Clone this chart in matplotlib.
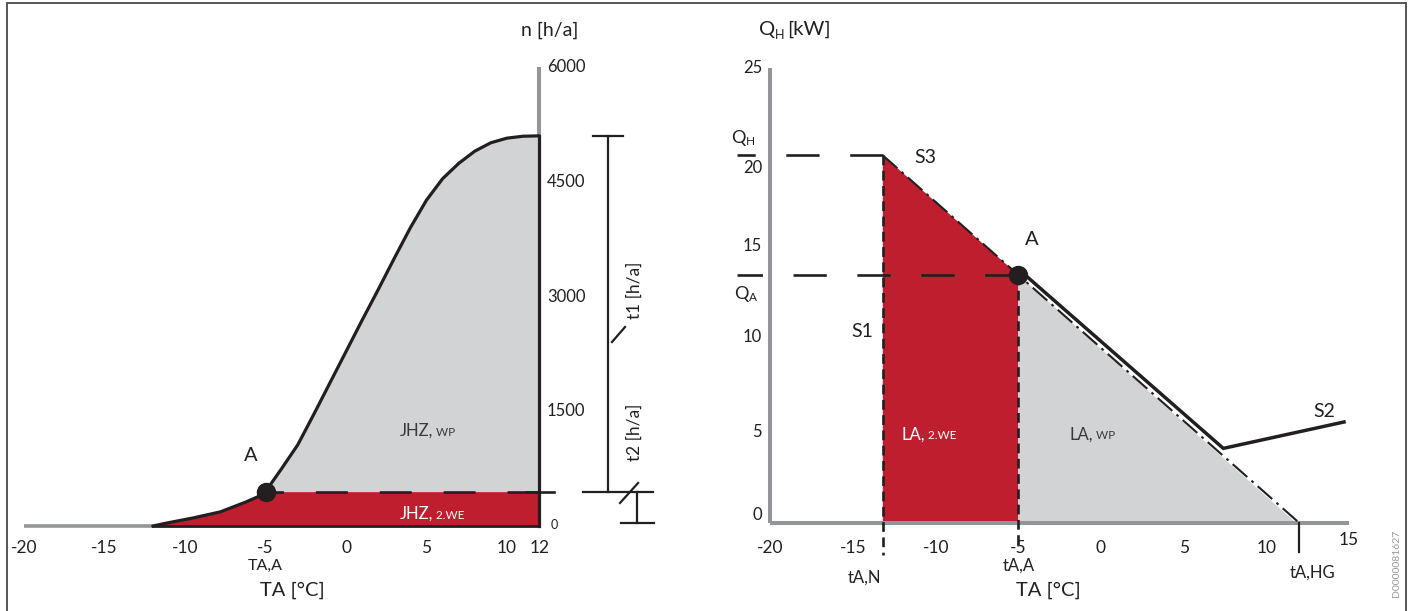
import matplotlib.pyplot as plt
from matplotlib.lines import Line2D

plt.rcParams['font.family'] = ['Lato', 'DejaVu Sans']
plt.rcParams['lines.scale_dashes'] = False

# ---- data: left panel (annual heating hours curve) ----
ta_curve = [-12.0, -11.1, -9.5, -7.8, -6.2, -5.5, -5.0, -4.0, -3.0, -2.0, -1.0, 0.0,
            1.0, 2.0, 3.0, 4.0, 5.0, 6.0, 7.0, 8.0, 9.0, 10.0, 11.0, 12.0]
n_curve = [0, 40, 105, 185, 315, 380, 450, 750, 1060, 1460, 1870, 2280,
           2690, 3090, 3500, 3900, 4260, 4540, 4740, 4900, 5010, 5070, 5095, 5100]
ta_a_left = -5.0
n_a = 450
left_xticks = [-20, -15, -10, -5, 0, 5, 10, 12]
left_yticks = [1500, 3000, 4500, 6000]

# ---- data: right panel (heating load line) ----
ta_n = -13.2      # tA,N
q_h = 20.2        # QH
ta_a = -5.0       # tA,A
q_a = 13.6        # QA
ta_hg = 12.0      # tA,HG
s_ta = [-5.0, 7.4, 14.7]     # heat pump line S / S2
s_q = [13.95, 4.1, 5.55]
right_xticks = [-20, -15, -10, -5, 0, 5, 10, 15]
right_yticks = [0, 5, 10, 15, 20, 25]

RED = '#be1e2d'
GREY_FILL = '#d1d3d4'
GREY_AX = '#939598'
BLACK = '#231f20'
W, H = 1411, 611

fig = plt.figure(figsize=(W / 100, H / 100), dpi=100)


def place(ax, x0, kx, xlim, y0, ky, ylim):
    # put the axes so that data maps to the wanted pixel scale
    left, right = x0 + kx * xlim[0], x0 + kx * xlim[1]
    top, bottom = y0 - ky * ylim[1], y0 - ky * ylim[0]
    ax.set_position([left / W, 1 - bottom / H, (right - left) / W, (bottom - top) / H])
    ax.set_xlim(xlim)
    ax.set_ylim(ylim)
    ax.axis('off')


def split_label(ax, x, y, big, small, color, fs=12, fs_small=8.5):
    ax.text(x, y, big, ha='right', va='baseline', fontsize=fs, color=color)
    ax.text(x, y, ' ' + small, ha='left', va='baseline', fontsize=fs_small, color=color)


# ================= left panel =================
axL = fig.add_axes([0, 0, 1, 1])
place(axL, 346, 16.1, (-22, 21), 526, 0.0765, (-1000, 6800))

i_a = ta_curve.index(ta_a_left)
# red part (below A level)
red_x = ta_curve[:i_a + 1] + [ta_curve[-1]]
red_y = n_curve[:i_a + 1] + [n_a]
axL.fill_between(red_x, 0, red_y, color=RED, lw=0, zorder=1)
# grey part (above A level)
axL.fill_between(ta_curve[i_a:], n_a, n_curve[i_a:], color=GREY_FILL, lw=0, zorder=1)

axL.plot([-20, ta_curve[0]], [0, 0], color=GREY_AX, lw=2.6, zorder=2, solid_capstyle='butt')
axL.plot([ta_curve[0], ta_curve[-1]], [0, 0], color=BLACK, lw=2, zorder=3)
axL.plot([12, 12], [n_curve[-1], 6000], color=GREY_AX, lw=2.9, zorder=2, solid_capstyle='butt')
axL.plot([12, 12], [0, n_curve[-1]], color=BLACK, lw=2.3, zorder=3)
axL.plot(ta_curve, n_curve, color=BLACK, lw=2.3, zorder=4, solid_capstyle='round',
         solid_joinstyle='round')
axL.plot([12, ta_a_left], [n_a, n_a], color=BLACK, lw=1.9, dashes=(23, 23), zorder=3)
axL.plot([11.2, 12.9], [n_a, n_a], color=BLACK, lw=1.9, zorder=3)
axL.plot([ta_a_left], [n_a], 'o', color=BLACK, ms=13, zorder=5)

# dimension brackets t1 / t2
bk = dict(color=BLACK, lw=1.6, clip_on=False)
axL.plot([16.27, 16.27], [n_curve[-1], n_a], **bk)
axL.plot([15.34, 17.2], [n_curve[-1], n_curve[-1]], **bk)
axL.plot([14.72, 19.07], [n_a, n_a], **bk)
axL.plot([18.07, 18.07], [n_a, 39], **bk)
axL.plot([17.08, 19.13], [39, 39], **bk)
axL.plot([17.02, 18.14], [301, 562], **bk)
axL.plot([16.52, 17.33], [2405, 2601], **bk)
axL.text(17.9, 3085, 't1 [h/a]', rotation=90, ha='center', va='center', fontsize=12.5, color=BLACK)
axL.text(17.9, 1229, 't2 [h/a]', rotation=90, ha='center', va='center', fontsize=12.5, color=BLACK)

# ticks and labels
for v in left_yticks:
    axL.text(12.48, v, str(v), ha='left', va='center', fontsize=12, color=BLACK)
axL.text(12.7, 13, '0', ha='left', va='center', fontsize=9, color=BLACK)
for v in left_xticks:
    axL.text(v, -288, str(v), ha='center', va='center', fontsize=12.5, color=BLACK)
axL.text(12.67, 6484, 'n [h/a]', ha='center', va='center', fontsize=14, color=BLACK)
axL.text(ta_a_left, -523, 'TA,A', ha='center', va='center', fontsize=11.5, color=BLACK)
axL.text(-3.3, -837, 'TA [°C]', ha='center', va='center', fontsize=14.5, color=BLACK)
axL.text(-5.9, 928, 'A', ha='center', va='center', fontsize=14.5, color=BLACK)
split_label(axL, 5.4, 1176, 'JHZ,', 'WP', '#3a3a3a')
split_label(axL, 5.4, 92, 'JHZ,', '2.WE', 'white')

# ================= right panel =================
axR = fig.add_axes([0, 0, 1, 1])
place(axR, 1101, 16.53, (-21, 18.5), 523, 18.2, (-4.5, 28.5))

slope = q_h / (ta_hg - ta_n)
q_at_a = q_h - slope * (ta_a - ta_n)
axR.fill([ta_n, ta_n, ta_a, ta_a], [0, q_h, q_at_a, 0], color=RED, lw=0, zorder=1)
axR.fill([ta_a, ta_a, ta_hg - 0.2], [0, q_at_a, 0], color=GREY_FILL, lw=0, zorder=1)

axR.plot([-20, 15], [0, 0], color=GREY_AX, lw=2.9, zorder=2, solid_capstyle='butt')
axR.plot([-20, -20], [0, 25], color=GREY_AX, lw=2.9, zorder=2, solid_capstyle='butt')

# horizontal dashed guides QH / QA
axR.plot([ta_n, -22.0], [q_h, q_h], color=BLACK, lw=1.9, dashes=(24, 22), zorder=3, clip_on=False)
axR.plot([ta_a, -22.0], [q_a, q_a], color=BLACK, lw=1.9, dashes=(24, 22), zorder=3, clip_on=False)
# vertical dashed S1 and tA,A
axR.plot([ta_n, ta_n], [q_h, -1.75], color=BLACK, lw=1.9, dashes=(7, 4), zorder=3)
axR.plot([ta_a, ta_a], [q_a, -1.2], color=BLACK, lw=1.9, dashes=(7, 4), zorder=3)
# S3 dash-dot load line
axR.plot([ta_n, ta_hg], [q_h, 0], color=BLACK, lw=1.5, dashes=(14, 4, 2, 4), zorder=3)
axR.plot([ta_hg, ta_hg], [0, -1.6], color=BLACK, lw=1.6, zorder=3)
# S / S2 heat pump line
axR.plot(s_ta, s_q, color=BLACK, lw=2.5, zorder=4, solid_joinstyle='miter')
axR.plot([ta_a], [q_a], 'o', color=BLACK, ms=13, zorder=5)

ylab = {25: 25, 20: 19.5, 15: 15.2, 10: 10.2, 5: 5, 0: 0.45}
for v in right_yticks:
    axR.text(-20.5, ylab[v], str(v), ha='right', va='center', fontsize=12, color=BLACK)
for v in right_xticks:
    axR.text(v, -1.37 if v != 15 else -0.93, str(v), ha='center', va='center',
             fontsize=12.5, color=BLACK)

axR.text(-19.7, 27.1, 'Q', ha='right', va='center', fontsize=14.5, color=BLACK)
axR.text(-19.7, 26.8, 'H', ha='left', va='center', fontsize=9, color=BLACK)
axR.text(-19.0, 27.1, '[kW]', ha='left', va='center', fontsize=14.5, color=BLACK)
axR.text(-21.5, 21.15, 'Q', ha='right', va='center', fontsize=13, color=BLACK, clip_on=False)
axR.text(-21.5, 20.95, 'H', ha='left', va='center', fontsize=8.5, color=BLACK)
axR.text(-21.3, 12.6, 'Q', ha='right', va='center', fontsize=13, color=BLACK)
axR.text(-21.3, 12.4, 'A', ha='left', va='center', fontsize=8.5, color=BLACK)

axR.text(-10.6, 20.1, 'S3', ha='center', va='center', fontsize=14, color=BLACK)
axR.text(-14.46, 10.5, 'S1', ha='center', va='center', fontsize=14, color=BLACK)
axR.text(-4.17, 15.6, 'A', ha='center', va='center', fontsize=14.5, color=BLACK)
axR.text(13.5, 6.1, 'S2', ha='center', va='center', fontsize=14, color=BLACK)
split_label(axR, -10.65, 4.6, 'LA,', '2.WE', 'white')
split_label(axR, -0.5, 4.6, 'LA,', 'WP', '#3a3a3a')

axR.text(-14.3, -3.0, 'tA,N', ha='center', va='center', fontsize=12, color=BLACK)
axR.text(ta_a, -2.36, 'tA,A', ha='center', va='center', fontsize=12, color=BLACK)
axR.text(-3.2, -3.7, 'TA [°C]', ha='center', va='center', fontsize=14.5, color=BLACK)
axR.text(12.8, -2.75, 'tA,HG', ha='center', va='center', fontsize=12, color=BLACK)

# frame round the figure and document id
for xs, ys in [([7, 7], [611, 3]), ([7, 1406], [3, 3]), ([1406, 1406], [3, 611])]:
    fig.add_artist(Line2D([x / W for x in xs], [1 - y / H for y in ys],
                          transform=fig.transFigure, color='#555555', lw=1.4))
fig.text(1397 / W, 1 - 563 / H, 'D0000081627', rotation=90, ha='center', va='center',
         fontsize=7.5, color='#9a9a9a')

fig.savefig('out.png', dpi=100)
